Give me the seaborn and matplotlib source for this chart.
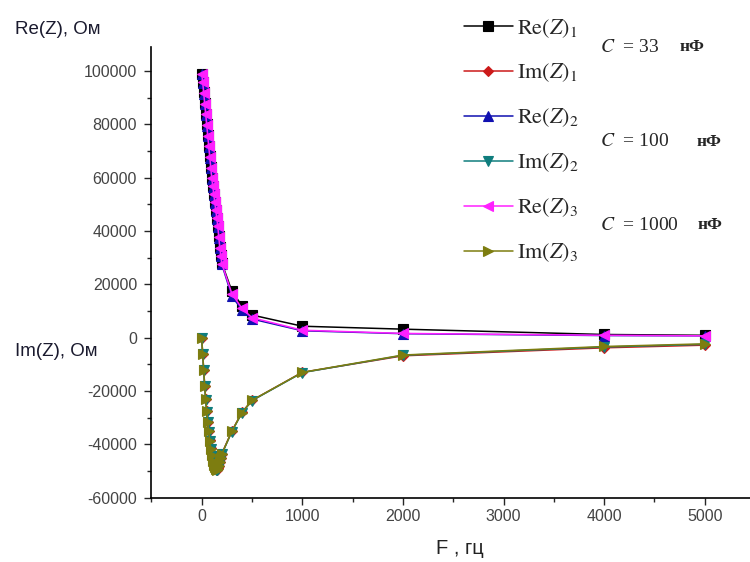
import numpy as np
import pandas as pd
import matplotlib
matplotlib.use("Agg")
import matplotlib.pyplot as plt
from matplotlib.ticker import MultipleLocator
import seaborn as sns

# frequency, Hz
freq = [0, 10, 20, 30, 40, 50, 60, 70, 80, 90, 100, 110, 120, 130, 140, 150,
        160, 170, 180, 190, 200, 300, 400, 500, 1000, 2000, 4000, 5000]

re_1 = [99000, 96000, 92000, 88000, 84000, 80000, 76000, 72000, 68000, 64000,
        60000, 57000, 54000, 51000, 48000, 45000, 42000, 38000, 34000, 31000,
        28000, 17500, 12000, 8500, 4300, 3200, 1200, 900]
re_2 = [99000, 95500, 91500, 87500, 83500, 79500, 75500, 71500, 67500, 63500,
        59500, 56500, 53500, 50500, 47500, 44500, 41500, 37500, 33500, 30500,
        27500, 15500, 10500, 7000, 2600, 1500, 800, 700]
re_3 = [99000, 95800, 91800, 87800, 83800, 79800, 75800, 71800, 67800, 63800,
        59800, 56800, 53800, 50800, 47800, 44800, 41800, 37800, 33800, 30800,
        27800, 16500, 11000, 7500, 2800, 1600, 900, 700]

im_1 = [0, -6000, -12000, -18000, -23000, -27500, -31500, -35000, -38500,
        -41500, -44000, -46000, -47500, -48500, -49300, -49500, -49000, -48000,
        -46500, -45000, -43500, -35000, -28000, -23500, -13000, -6800, -3800, -2800]
im_2 = [0, -6200, -12300, -18300, -23300, -27800, -31800, -35300, -38800,
        -41800, -44300, -46300, -47800, -48800, -49500, -49700, -49200, -48200,
        -46700, -45200, -43700, -35200, -28200, -23600, -13100, -6600, -3500, -2500]
im_3 = [0, -6100, -12100, -18100, -23100, -27600, -31600, -35100, -38600,
        -41600, -44100, -46100, -47600, -48600, -49400, -49600, -49100, -48100,
        -46600, -45100, -43600, -35100, -28100, -23500, -13000, -6500, -3300, -2300]

series = [
    (re_1, r"$\mathrm{Re}\left(Z\right)_1$", "black", "s"),
    (im_1, r"$\mathrm{Im}\left(Z\right)_1$", "#cc1a1a", "D"),
    (re_2, r"$\mathrm{Re}\left(Z\right)_2$", "#1010b0", "^"),
    (im_2, r"$\mathrm{Im}\left(Z\right)_2$", "#0f7d7d", "v"),
    (re_3, r"$\mathrm{Re}\left(Z\right)_3$", "#ff20ff", "<"),
    (im_3, r"$\mathrm{Im}\left(Z\right)_3$", "#7d7d10", ">"),
]

sns.set_style("ticks")
plt.rcParams["font.family"] = ["Liberation Sans", "DejaVu Sans"]
plt.rcParams["mathtext.fontset"] = "stix"
plt.rcParams["axes.unicode_minus"] = False

fig = plt.figure(figsize=(7.5, 5.62), dpi=100)
ax = fig.add_axes([0.2013, 0.1144, 0.7987, 0.802])

for vals, name, col, mk in series:
    df = pd.DataFrame({"F": freq, "Z": vals})
    sns.lineplot(data=df, x="F", y="Z", ax=ax, sort=False, color=col,
                 marker=mk, markersize=7 if mk != "D" else 5,
                 markeredgecolor=col, markeredgewidth=0.8,
                 linewidth=1.1, label=name, legend=False)

ax.set_xlim(-504, 5450)
ax.set_ylim(-60000, 109000)
ax.xaxis.set_major_locator(MultipleLocator(1000))
ax.xaxis.set_minor_locator(MultipleLocator(500))
ax.yaxis.set_major_locator(MultipleLocator(20000))
ax.yaxis.set_minor_locator(MultipleLocator(10000))
ax.tick_params(which="major", length=5, width=1, labelsize=11.5, labelcolor="#444444")
ax.tick_params(axis="y", which="major", pad=5)
ax.tick_params(axis="x", which="major", pad=3)
ax.tick_params(which="minor", length=3, width=1)
sns.despine(ax=ax)
for s in ["left", "bottom"]:
    ax.spines[s].set_linewidth(1.2)
    ax.spines[s].set_color("black")
ax.set_xlabel("")
ax.set_ylabel("")

fig.text(15 / 750, 1 - 30 / 562, "Re(Z), Ом", fontsize=13.5, va="center", color="#1a1a2e")
fig.text(15 / 750, 1 - 352 / 562, "Im(Z), Ом", fontsize=13.5, va="center", color="#1a1a2e")
fig.text(460 / 750, 1 - 548 / 562, "F , гц", fontsize=14.5, ha="center", va="center", color="#222222")

handles, labels = ax.get_legend_handles_labels()
fig.legend(handles, labels, loc="upper left", bbox_to_anchor=(455 / 750, 1 - 8 / 562),
           frameon=False, fontsize=16, labelspacing=1.0, handlelength=2.2,
           handletextpad=0.2, borderaxespad=0)

caps = [("33", 47, 680), ("100", 142, 697), ("1000", 225, 698)]
for val, ypx, nx in caps:
    fig.text(600 / 750, 1 - ypx / 562, r"$C$  = " + val, fontsize=14,
             family="Liberation Serif", va="center")
    fig.text(nx / 750, 1 - ypx / 562, "нФ", fontsize=12.5, fontweight="bold",
             family="Liberation Serif", va="center")

fig.savefig("out.png", dpi=100)
